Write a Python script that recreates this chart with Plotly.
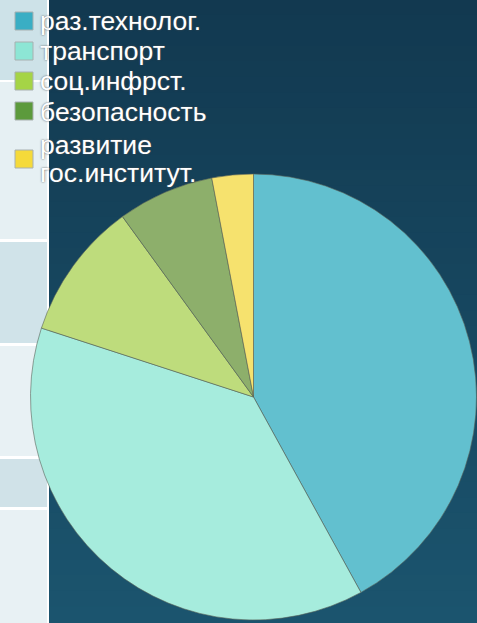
import plotly.graph_objects as go

labels = ["раз.технолог.", "транспорт", "соц.инфрст.", "безопасность", "развитие<br>гос.институт."]
values = [42, 38, 10, 7, 3]
colors = ["#62c0cf", "#a6ecdd", "#bedc7c", "#8daf6b", "#f6e26e"]
legend_colors = ["#3aaec4", "#8de6d5", "#a5d446", "#5c9a3c", "#f5da3a"]

W, H = 477, 623

fig = go.Figure()
fig.add_trace(go.Pie(
    labels=labels, values=values, sort=False, direction="clockwise", rotation=0,
    marker=dict(colors=colors, line=dict(color="rgba(90,100,90,0.6)", width=1)),
    textinfo="none", hoverinfo="label+percent", showlegend=False,
    domain=dict(x=[30 / W, 1.0], y=[3 / H, (H - 174) / H]),
))

shapes = []
# dark gradient background (horizontal bands)
n = 40
top = (18, 57, 80)
bot = (27, 84, 110)
for i in range(n):
    t = i / (n - 1)
    c = tuple(round(top[k] + (bot[k] - top[k]) * t) for k in range(3))
    shapes.append(dict(type="rect", xref="paper", yref="paper", layer="below",
                       x0=0, x1=1, y0=1 - (i + 1) / n, y1=1 - i / n + 0.002,
                       fillcolor="rgb(%d,%d,%d)" % c, line=dict(width=0)))
# left strip panels
panels = [(0, 80, "#cde2e8"), (82, 239, "#e6f0f3"), (242, 343, "#d0e3e9"),
          (346, 456, "#e8f1f4"), (459, 507, "#d0e2e8"), (510, 623, "#e8f1f4")]
shapes.append(dict(type="rect", xref="paper", yref="paper", layer="below",
                   x0=0, x1=49 / W, y0=0, y1=1, fillcolor="#ffffff", line=dict(width=0)))
for a, b, col in panels:
    shapes.append(dict(type="rect", xref="paper", yref="paper", layer="below",
                       x0=0, x1=47 / W, y0=1 - b / H, y1=1 - a / H,
                       fillcolor=col, line=dict(width=0)))

# legend (swatches + labels), laid out in pixels
swatch_cy = [21, 51, 81, 111, 159]
text_cy = [[21], [51], [81], [112], [145, 173]]
annotations = []
font = dict(family="Liberation Sans, Arial, sans-serif", size=26.5, color="#ffffff",
            shadow="0px 0px 2px #555555")
for lab, col, sy, tys in zip(labels, legend_colors, swatch_cy, text_cy):
    shapes.append(dict(type="rect", xref="paper", yref="paper",
                       x0=15 / W, x1=33 / W, y0=1 - (sy + 9) / H, y1=1 - (sy - 9) / H,
                       fillcolor=col, line=dict(color="#a8b0b0", width=1)))
    for part, ty in zip(lab.split("<br>"), tys):
        annotations.append(dict(text=part, xref="paper", yref="paper",
                                x=38 / W, y=1 - ty / H, xanchor="left", yanchor="middle",
                                showarrow=False, font=font))

fig.update_layout(
    width=W, height=H,
    margin=dict(l=0, r=0, t=0, b=0),
    paper_bgcolor="#143c55",
    shapes=shapes,
    annotations=annotations,
    showlegend=False,
)

fig.write_html("out.html", config={"displayModeBar": False},
               post_script="document.body.style.margin='0';document.body.style.padding='0';")
